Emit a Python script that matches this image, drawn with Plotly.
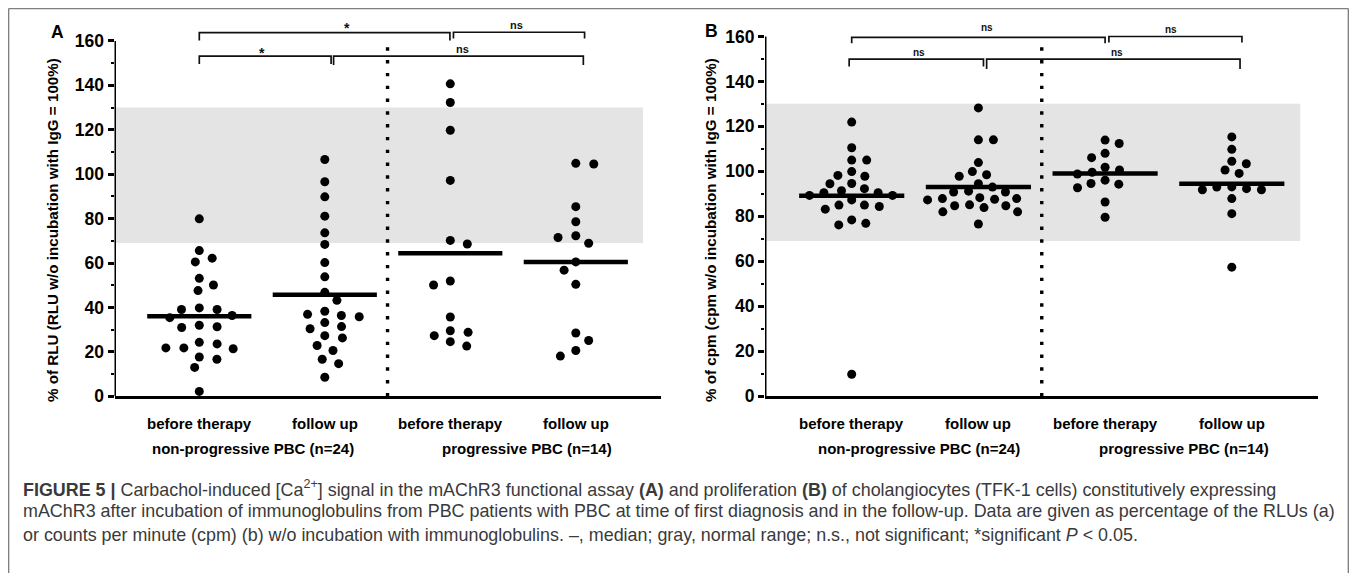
import numpy as np
import plotly.graph_objects as go

# The page body has a default 8px margin on every side; keep the document exactly 1357x581
PAGE_W, PAGE_H = 1357, 581
OFF = 8
W, H = PAGE_W - 2 * OFF, PAGE_H - 2 * OFF

# ---------------- data ----------------
categories = ["before therapy", "follow up", "before therapy", "follow up"]
group_labels = ["non-progressive PBC (n=24)", "progressive PBC (n=14)"]
y_ticks = [0, 20, 40, 60, 80, 100, 120, 140, 160]
y_minor_ticks = [10, 30, 50, 70, 90, 110, 130, 150]
normal_range = [69, 130]

rlu_np_before = [79.9, 65.6, 60.5, 62.2, 53.1, 47.6, 50.1, 39.8, 39.1, 39.1, 36.4, 35.4,
                 31.0, 31.3, 32.0, 24.3, 23.6, 21.4, 21.8, 21.8, 17.7, 16.7, 13.0, 2.2]
rlu_np_follow = [106.6, 96.6, 89.8, 81.1, 73.6, 68.4, 60.2, 53.8, 46.8, 43.2, 38.3, 36.9,
                 35.8, 36.4, 33.2, 30.4, 31.4, 26.3, 27.3, 22.9, 20.6, 16.7, 14.7, 8.6]
rlu_p_before = [140.7, 132.3, 119.8, 97.2, 68.6, 70.2, 51.9, 50.1, 35.7, 29.5, 28.8, 27.3, 24.6, 22.6]
rlu_p_follow = [104.6, 104.9, 85.4, 78.6, 72.3, 71.5, 68.9, 60.5, 56.8, 50.4, 28.5, 25.1, 20.6, 18.1]
rlu_medians = [36.0, 45.7, 64.4, 60.5]

cpm_np_before = [121.9, 110.5, 105.0, 105.0, 97.8, 98.2, 99.9, 94.5, 94.6, 92.3, 91.4, 89.3,
                 89.3, 90.5, 90.5, 87.3, 83.2, 85.0, 84.4, 85.0, 76.2, 78.4, 76.9, 9.8]
cpm_np_follow = [128.2, 114.0, 114.0, 103.9, 99.9, 97.8, 98.5, 94.5, 93.0, 90.8, 90.8, 91.2,
                 87.3, 87.9, 87.9, 87.6, 88.3, 82.0, 85.1, 83.9, 84.7, 84.7, 82.0, 76.6]
cpm_p_before = [112.4, 113.9, 106.1, 108.0, 101.8, 98.8, 99.6, 100.6, 96.1, 92.7, 94.3, 94.6, 86.4, 79.6]
cpm_p_follow = [115.3, 109.8, 103.4, 104.5, 99.1, 100.6, 91.8, 93.1, 92.3, 93.0, 91.8, 87.9, 81.2, 57.4]
cpm_medians = [89.1, 93.1, 99.1, 94.5]

# significance labels: upper-left, upper-right, lower-left, lower-right
rlu_sig = ["*", "ns", "*", "ns"]
cpm_sig = ["ns", "ns", "ns", "ns"]

caption_lines = [
    "<b>FIGURE 5 |</b> Carbachol-induced [Ca<sup>2+</sup>] signal in the mAChR3 functional assay <b>(A)</b> and "
    "proliferation <b>(B)</b> of cholangiocytes (TFK-1 cells) constitutively expressing",
    "mAChR3 after incubation of immunoglobulins from PBC patients with PBC at time of first diagnosis and in the "
    "follow-up. Data are given as percentage of the RLUs (a)",
    "or counts per minute (cpm) (b) w/o incubation with immunoglobulins. \u2013, median; gray, normal range; "
    "n.s., not significant; *significant <i>P</i> &lt; 0.05.",
]

# ---------------- helpers ----------------
FONT = "Liberation Sans"


def px_(x):           # page x (px) -> paper fraction
    return (x - OFF) / W


def py(y):            # page y (px) -> paper fraction
    return 1 - (y - OFF) / H


def swarm(values, ky, dx, dy):
    """Continuous beeswarm in pixel space with elliptical collision; returns x offsets (px)."""
    vals = np.asarray(values, float)
    order = np.argsort(-vals, kind="stable")
    placed = []
    offs = np.zeros(len(vals))
    pref = 1
    for i in order:
        yv = vals[i] * ky
        iv = []
        for xj, yj in placed:
            d = abs(yv - yj)
            if d < dy:
                w = dx * np.sqrt(1 - (d / dy) ** 2)
                iv.append((xj - w, xj + w))
        cands = [0.0] + [a for a, b in iv] + [b for a, b in iv]
        valid = [c for c in cands if all(not (a + 1e-6 < c < b - 1e-6) for a, b in iv)]
        best = min(valid, key=lambda c: (round(abs(c), 5), -pref * np.sign(c)))
        if best != 0:
            pref = -pref
        placed.append((best, yv))
        offs[i] = best
    return offs


fig = go.Figure()
shapes = []
annotations = []

# bracket geometry is given in page pixels: (from, to, top_px, leg_px); labels: (x, y_px, size)
panels = [
    dict(key="", groups=[rlu_np_before, rlu_np_follow, rlu_p_before, rlu_p_follow], medians=rlu_medians,
         ax_left=114.5, ax_right=661, c0=199.3, kx=125.5, y0px=403.3, ky=2.261, ymax=172,
         band_right=3.535, dot_top=160.0, sdx=18.0, sdy=11.0,
         title="% of RLU (RLU w/o incubation with IgG = 100%)", title_x=52, title_y=234,
         letter="A", letter_x=57, letter_y=32.5, sig=rlu_sig,
         br=[(0.0, 1.997, 33, 41), (2.025, 3.07, 32.7, 39),
             (0.0, 1.05, 57, 65), (1.07, 3.06, 57, 66)],
         lab=[(1.18, 28.5, 14), (2.53, 25, 11), (0.5, 54, 14), (2.1, 50, 11)],
         grp_x=[0.43, 2.61]),
    dict(key="2", groups=[cpm_np_before, cpm_np_follow, cpm_p_before, cpm_p_follow], medians=cpm_medians,
         ax_left=765, ax_right=1318, c0=851.7, kx=126.7, y0px=403.3, ky=2.29, ymax=168,
         band_right=3.54, dot_top=159.5, sdx=15.0, sdy=10.0,
         title="% of cpm (cpm w/o incubation with IgG = 100%)", title_x=710, title_y=234,
         letter="B", letter_x=711, letter_y=31, sig=cpm_sig,
         br=[(0.0, 2.0, 38, 44), (2.03, 3.08, 37, 43),
             (-0.02, 1.04, 60, 67.5), (1.065, 3.065, 60, 70)],
         lab=[(1.07, 28, 10), (2.52, 30, 10), (0.53, 53, 10), (2.09, 53, 10)],
         grp_x=[0.53, 2.62]),
]

for p in panels:
    k = p["key"]
    xr, yr = "x" + k, "y" + k
    xmin = (p["ax_left"] - p["c0"]) / p["kx"]
    xmax = (p["ax_right"] - p["c0"]) / p["kx"]
    ytop_px = p["y0px"] - p["ymax"] * p["ky"]

    def v(ypx, p=p):  # page y -> data value of this panel
        return (p["y0px"] - ypx) / p["ky"]

    # dots
    for gi, vals in enumerate(p["groups"]):
        offs = swarm(vals, p["ky"], p["sdx"], p["sdy"])
        fig.add_trace(go.Scatter(
            x=gi + offs / p["kx"], y=vals, mode="markers", xaxis=xr, yaxis=yr,
            marker=dict(size=9, color="black", line=dict(width=0)),
            cliponaxis=False, showlegend=False, hoverinfo="y"))

    # normal range band
    shapes.append(dict(type="rect", xref=xr, yref=yr, x0=xmin, x1=p["band_right"],
                       y0=normal_range[0], y1=normal_range[1], fillcolor="#e4e4e4",
                       line=dict(width=0), layer="below"))
    # medians
    for gi, m in enumerate(p["medians"]):
        shapes.append(dict(type="line", xref=xr, yref=yr, x0=gi - 0.415, x1=gi + 0.415, y0=m, y1=m,
                           line=dict(color="black", width=4.5)))
    # dotted separator
    shapes.append(dict(type="line", xref=xr, yref=yr, x0=1.5, x1=1.5, y0=0, y1=p["dot_top"],
                       line=dict(color="black", width=3.4, dash="3.4px,9.4px")))
    # y axis line (0..160)
    shapes.append(dict(type="line", xref=xr, yref=yr, x0=xmin, x1=xmin, y0=0, y1=160,
                       line=dict(color="black", width=3)))
    # brackets
    for (a, b, ytop, yleg) in p["br"]:
        shapes.append(dict(type="path", xref=xr, yref=yr,
                           path=f"M {a},{v(yleg)} L {a},{v(ytop)} L {b},{v(ytop)} L {b},{v(yleg)}",
                           line=dict(color="#111", width=1.7)))
    for (lx, lypx, fs), t in zip(p["lab"], p["sig"]):
        annotations.append(dict(xref=xr, yref="paper", x=lx, y=py(lypx), text=f"<b>{t}</b>",
                                showarrow=False, xanchor="center", yanchor="middle",
                                font=dict(family=FONT, size=fs, color="#111")))
    # category labels
    for gi, c in enumerate(categories):
        annotations.append(dict(xref=xr, yref="paper", x=gi, y=py(431), text=f"<b>{c}</b>",
                                xanchor="center", yanchor="middle",
                                showarrow=False, font=dict(family=FONT, size=15, color="black")))
    for gx, g in zip(p["grp_x"], group_labels):
        annotations.append(dict(xref=xr, yref="paper", x=gx, y=py(456), text=f"<b>{g}</b>",
                                xanchor="center", yanchor="middle",
                                showarrow=False, font=dict(family=FONT, size=15, color="black")))
    # y title
    annotations.append(dict(xref="paper", yref="paper", x=px_(p["title_x"]), y=py(p["title_y"]),
                            text=f"<b>{p['title']}</b>", textangle=-90, showarrow=False,
                            xanchor="center", yanchor="middle",
                            font=dict(family=FONT, size=15.2, color="black")))
    # panel letter
    annotations.append(dict(xref="paper", yref="paper", x=px_(p["letter_x"]), y=py(p["letter_y"]),
                            text=f"<b>{p['letter']}</b>", showarrow=False,
                            xanchor="center", yanchor="middle",
                            font=dict(family=FONT, size=17.5, color="black")))

    fig.update_layout(**{
        "xaxis" + k: dict(domain=[px_(p["ax_left"]), px_(p["ax_right"])], range=[xmin, xmax],
                          showline=True, linewidth=3, linecolor="black", showgrid=False,
                          zeroline=False, showticklabels=False, ticks="", anchor=yr, fixedrange=True),
        "yaxis" + k: dict(domain=[py(p["y0px"]), py(ytop_px)], range=[0, p["ymax"]],
                          showline=False, showgrid=False, zeroline=False, anchor=xr,
                          tickvals=y_ticks, ticktext=[f"<b>{t}</b>" for t in y_ticks],
                          ticks="outside", ticklen=6, tickwidth=2.5, tickcolor="black",
                          tickfont=dict(family=FONT, size=17.5, color="black"),
                          minor=dict(tickvals=y_minor_ticks, ticks="outside", ticklen=3,
                                     tickwidth=2, tickcolor="black"),
                          fixedrange=True),
    })

# caption
for yy, line in zip([497, 520.5, 544], caption_lines):
    annotations.append(dict(xref="paper", yref="paper", x=px_(21), y=py(yy),
                            xanchor="left", yanchor="middle", align="left", text=line,
                            showarrow=False, font=dict(family=FONT, size=17.9, color="#3a3a3a")))

# figure frame (left, top, right)
for (x0, y0, x1, y1) in [(8.6, 8.6, 1348.4, 8.6), (8.6, 8.6, 8.6, 600), (1348.4, 8.6, 1348.4, 600)]:
    shapes.append(dict(type="line", xref="paper", yref="paper", x0=px_(x0), x1=px_(x1),
                       y0=py(y0), y1=py(y1), line=dict(color="#808080", width=1.5)))

fig.update_layout(width=W, height=H, margin=dict(l=0, r=0, t=0, b=0),
                  paper_bgcolor="white", plot_bgcolor="rgba(0,0,0,0)",
                  showlegend=False, shapes=shapes, annotations=annotations)

fig.write_html("out.html")
